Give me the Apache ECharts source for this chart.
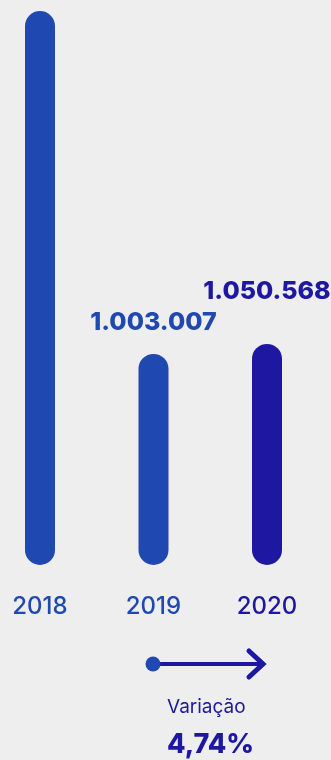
<!DOCTYPE html>
<html>
<head>
<meta charset="utf-8">
<style>
  html, body { margin: 0; padding: 0; background: #eeeeee; }
  #chart { width: 331px; height: 760px; }
</style>
<script src="https://cdn.jsdelivr.net/npm/echarts@6/dist/echarts.min.js"></script>
</head>
<body>
<div id="chart"></div>
<script>
const palette = {
  blue: "#1f48b0",
  indigo: "#1d17a1",
  paper: "#eeeeee",
};

const years = ["2018", "2019", "2020"];
const totals = [2633000, 1003007, 1050568];
const labelTexts = ["", "1.003.007", "1.050.568"];
const barColors = [palette.blue, palette.blue, palette.indigo];
const labelGaps = [0, 19, 40];
const variationLabel = "Variação";
const variationValue = "4,74%";

const chart = echarts.init(document.getElementById("chart"), null, { renderer: "canvas" });

chart.setOption({
  backgroundColor: palette.paper,
  animation: false,
  grid: { left: 40, right: 64, top: 11, bottom: 195 },
  xAxis: {
    type: "category",
    data: years,
    boundaryGap: false,
    axisLine: { show: false },
    axisTick: { show: false },
    axisLabel: {
      margin: 30,
      fontFamily: "Inter",
      fontWeight: 500,
      fontSize: 24,
      color: (value, index) => barColors[index],
    },
  },
  yAxis: {
    type: "value",
    min: 0,
    max: "dataMax",
    show: false,
    splitLine: { show: false },
  },
  series: [
    {
      type: "bar",
      barWidth: 30,
      data: totals.map((value, i) => ({
        value,
        itemStyle: { color: barColors[i], borderRadius: 15 },
        label: {
          show: !!labelTexts[i],
          position: "top",
          distance: labelGaps[i],
          formatter: labelTexts[i],
          color: barColors[i],
          fontFamily: "Inter",
          fontWeight: 800,
          fontSize: 25,
          letterSpacing: -1,
        },
      })),
    },
  ],
  graphic: [
    {
      type: "line",
      shape: { x1: 153, y1: 664, x2: 262, y2: 664 },
      style: { stroke: palette.indigo, lineWidth: 4 },
    },
    {
      type: "polyline",
      shape: { points: [[249, 651], [263, 664], [249, 677]] },
      style: { stroke: palette.indigo, lineWidth: 5, fill: null, lineCap: "round", lineJoin: "miter" },
    },
    {
      type: "circle",
      shape: { cx: 153, cy: 664, r: 7.5 },
      style: { fill: palette.blue },
    },
    {
      type: "text",
      left: 167,
      top: 698,
      style: {
        text: variationLabel,
        fill: palette.indigo,
        font: "400 19px Inter",
      },
    },
    {
      type: "text",
      left: 167,
      top: 731,
      style: {
        text: variationValue,
        fill: palette.indigo,
        font: "800 27px Inter",
        letterSpacing: -0.5,
      },
    },
  ],
});
</script>
</body>
</html>
